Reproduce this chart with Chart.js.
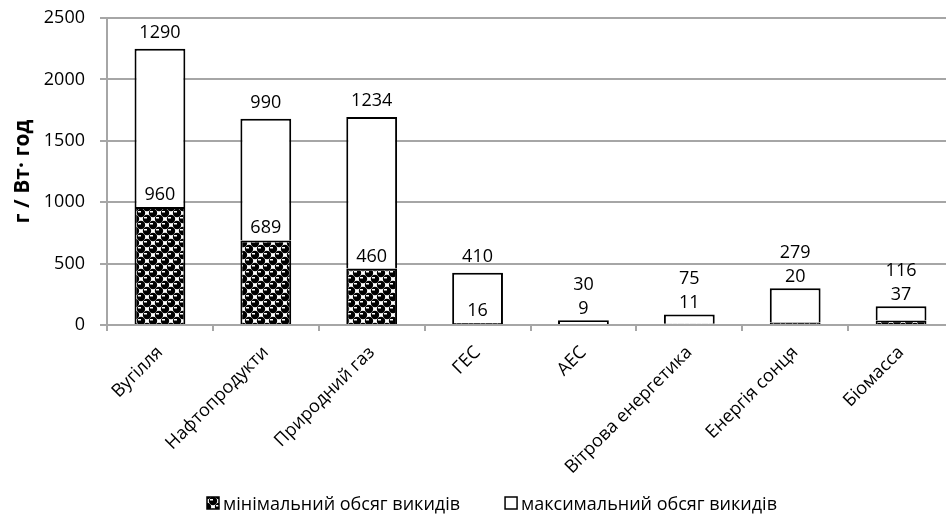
<!DOCTYPE html>
<html>
<head>
<meta charset="utf-8">
<script src="https://cdn.jsdelivr.net/npm/chart.js@4"></script>
<style>
  html, body { margin: 0; padding: 0; background: #fff; overflow: hidden; }
  #wrap { width: 946px; height: 515px; overflow: hidden; position: relative; }
  canvas { display: block; }
</style>
</head>
<body>
<div id="wrap"><canvas id="chart" width="968" height="515"></canvas></div>
<script>
// Emissions per generation source, g / W·h
const categories = ['Вугілля', 'Нафтопродукти', 'Природний газ', 'ГЕС', 'АЕС', 'Вітрова енергетика', 'Енергія сонця', 'Біомасса'];
const minEmissions = [960, 689, 460, 16, 9, 11, 20, 37];
const maxEmissions = [1290, 990, 1234, 410, 30, 75, 279, 116];
const yTicks = [0, 500, 1000, 1500, 2000, 2500];
const seriesNames = ['мінімальний обсяг викидів', 'максимальний обсяг викидів'];
const axisTitle = 'г / Вт· год';

const FONT = '"Open Sans", "DejaVu Sans", sans-serif';
const FS = 18;

// black/white "ball" checker fill for the lower segment
function makeBallPattern() {
  const T = 12, C = 6;
  const c = document.createElement('canvas');
  c.width = T; c.height = T;
  const g = c.getContext('2d');
  g.fillStyle = '#fff';
  g.fillRect(0, 0, T, T);
  g.fillStyle = '#000';
  const centres = [[3, 3], [9, 9]];
  for (const [cx, cy] of centres) {
    for (const dx of [-T, 0, T]) {
      for (const dy of [-T, 0, T]) {
        g.fillRect(cx + dx - C / 2, cy + dy - C / 2, C, C);
        g.beginPath();
        g.arc(cx + dx, cy + dy, 4.2, 0, Math.PI * 2);
        g.fill();
      }
    }
  }
  g.fillStyle = '#fff';
  for (const [cx, cy] of centres) g.fillRect(cx - 3, cy - 2, 3, 1.5);
  return g.createPattern(c, 'repeat');
}
const ballPattern = makeBallPattern();

// numbers above the segments
const valueLabels = {
  id: 'valueLabels',
  afterDatasetsDraw(chart) {
    const ctx = chart.ctx;
    const lo = chart.getDatasetMeta(0).data;
    const hi = chart.getDatasetMeta(1).data;
    ctx.save();
    ctx.font = FS + 'px ' + FONT;
    ctx.fillStyle = '#000';
    ctx.textAlign = 'center';
    ctx.textBaseline = 'alphabetic';
    const half = 6.5;
    categories.forEach((_, i) => {
      const top = hi[i].y;
      const segH = hi[i].base - hi[i].y;
      let yMin, yMax;
      if (segH < 45) {
        yMin = top - 13;
        yMax = yMin - 24;
      } else {
        yMin = lo[i].y - 13.5;
        yMax = top - 17.5;
      }
      ctx.fillText(String(minEmissions[i]), lo[i].x, yMin + half);
      ctx.fillText(String(maxEmissions[i]), hi[i].x, yMax + half);
    });
    ctx.restore();
  }
};

// legend row at the bottom
const bottomLegend = {
  id: 'bottomLegend',
  afterDraw(chart) {
    const ctx = chart.ctx;
    const ds = chart.data.datasets;
    ctx.save();
    ctx.font = FS + 'px ' + FONT;
    ctx.textBaseline = 'alphabetic';
    ctx.textAlign = 'left';
    const box = 12, gap = 4, spacing = 45;
    const widths = ds.map(d => ctx.measureText(d.label).width);
    const total = widths.reduce((s, w) => s + box + gap + w, 0) + spacing * (ds.length - 1);
    const cx = 492, cy = 503;
    let x = cx - total / 2;
    ds.forEach((d, i) => {
      ctx.fillStyle = d.backgroundColor;
      ctx.fillRect(x, cy - box / 2, box, box);
      ctx.strokeStyle = '#000';
      ctx.lineWidth = 1.5;
      ctx.strokeRect(x, cy - box / 2, box, box);
      ctx.fillStyle = '#000';
      ctx.fillText(d.label, x + box + gap, cy + 6.5);
      x += box + gap + widths[i] + spacing;
    });
    ctx.restore();
  }
};

new Chart(document.getElementById('chart'), {
  type: 'bar',
  data: {
    labels: categories,
    datasets: [
      {
        label: seriesNames[0],
        data: minEmissions,
        backgroundColor: ballPattern,
        borderColor: '#000',
        borderWidth: 2,
        barPercentage: 0.48,
        categoryPercentage: 1
      },
      {
        label: seriesNames[1],
        data: maxEmissions,
        backgroundColor: '#fff',
        borderColor: '#000',
        borderWidth: 2,
        barPercentage: 0.48,
        categoryPercentage: 1
      }
    ]
  },
  options: {
    responsive: false,
    devicePixelRatio: 1,
    animation: false,
    layout: { padding: { top: 18, right: 14, bottom: 40, left: 0 } },
    plugins: {
      legend: { display: false },
      tooltip: { enabled: false }
    },
    scales: {
      x: {
        stacked: true,
        grid: {
          offset: true,
          drawOnChartArea: false,
          drawTicks: true,
          tickLength: 6,
          color: '#a6a6a6',
          lineWidth: 2
        },
        border: { display: true, color: '#a6a6a6', width: 2 },
        ticks: {
          color: '#000',
          font: { family: FONT, size: FS },
          minRotation: 45,
          maxRotation: 45,
          autoSkip: false,
          padding: 11
        },
        afterFit(scale) { scale.height = 150; }
      },
      y: {
        stacked: true,
        min: 0,
        max: 2500,
        afterBuildTicks(scale) { scale.ticks = yTicks.map(v => ({ value: v })); },
        grid: {
          color: '#a6a6a6',
          lineWidth: 2,
          tickLength: 7
        },
        border: { display: true, color: '#a6a6a6', width: 2 },
        ticks: {
          color: '#000',
          font: { family: FONT, size: FS },
          padding: 15,
          callback: v => String(v)
        },
        title: {
          display: true,
          text: axisTitle,
          color: '#000',
          font: { family: FONT, size: 21, weight: 'bold' },
          padding: { top: 10, bottom: 0 }
        },
        afterFit(scale) {
          scale.width = 107;
          scale.paddingTop = 0;
          scale.paddingBottom = 0;
        }
      }
    }
  },
  plugins: [valueLabels, bottomLegend]
});
</script>
</body>
</html>
